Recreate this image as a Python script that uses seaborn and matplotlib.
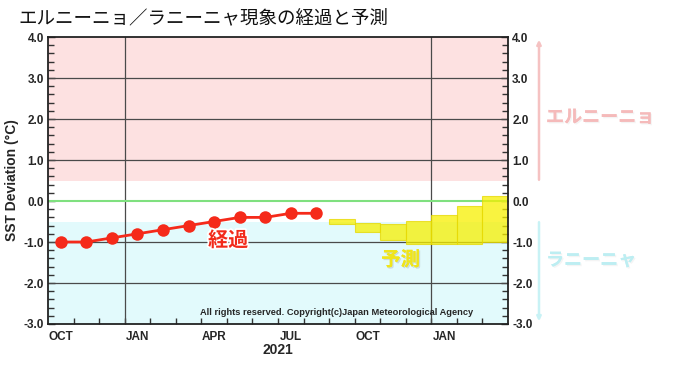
import numpy as np
import pandas as pd
import matplotlib
matplotlib.use("Agg")
import matplotlib.pyplot as plt
import matplotlib.patheffects as pe
import seaborn as sns

# ---- data ----
month_labels = ["OCT", "NOV", "DEC", "JAN", "FEB", "MAR", "APR", "MAY", "JUN",
                "JUL", "AUG", "SEP", "OCT", "NOV", "DEC", "JAN", "FEB", "MAR"]
obs_values = [-1.0, -1.0, -0.9, -0.8, -0.7, -0.6, -0.5, -0.4, -0.4, -0.3, -0.3]
fc_low = [-0.55, -0.76, -0.94, -1.04, -1.04, -1.04, -1.0]
fc_high = [-0.45, -0.54, -0.55, -0.49, -0.33, -0.11, 0.12]
tick_label_idx = [0, 3, 6, 9, 12, 15]
year_label = "2021"

sns.set_theme(style="white")
plt.rcParams['font.family'] = ['Liberation Sans', 'Noto Sans CJK JP', 'DejaVu Sans']

fig = plt.figure(figsize=(6.8, 3.65), dpi=100)
ax = fig.add_axes([48/680, 1-324/365, 460/680, 287/365])

n = len(month_labels)
ax.set_xlim(-0.5, n - 0.5)
ax.set_ylim(-3.0, 4.0)

# background bands
ax.axhspan(0.5, 4.0, color="#fde1e1", zorder=0, lw=0)
ax.axhspan(-3.0, -0.5, color="#e2fafc", zorder=0, lw=0)

# grid
for yv in [3, 2, 1, -1, -2]:
    ax.axhline(yv, color="#4a4a4a", lw=0.9, zorder=1)
ax.axvline(2.5, color="#4a4a4a", lw=0.9, zorder=1)
ax.axvline(14.5, color="#4a4a4a", lw=0.9, zorder=1)
ax.axhline(0, color="#7fe07f", lw=1.5, zorder=1)

# forecast bars
fc_x = np.arange(len(obs_values), len(obs_values) + len(fc_low))
ax.bar(fc_x, np.array(fc_high) - np.array(fc_low), bottom=fc_low, width=1.0,
       color="#f7f000", alpha=0.75, edgecolor="#e6d800", lw=0.8, zorder=2)

# observations
df = pd.DataFrame({"m": np.arange(len(obs_values)), "v": obs_values})
sns.lineplot(data=df, x="m", y="v", ax=ax, color="#f52a1a", lw=2,
             marker="o", markersize=9, markeredgewidth=0, zorder=4)
ax.set_xlabel("")
ax.set_ylabel("SST Deviation (°C)", fontsize=10, fontweight="bold", labelpad=3)

# ticks
ax.set_yticks(np.arange(-3, 4.01, 1.0))
ax.set_yticklabels([f"{v:.1f}" for v in np.arange(-3, 4.01, 1.0)], fontsize=8.5,
                   fontweight="bold")
ax.set_yticks(np.arange(-3, 4.01, 0.2), minor=True)
ax.tick_params(axis="y", which="both", direction="in", left=True, right=True,
               labelleft=True, labelright=True, length=5, width=1, color="#333333", pad=3)
ax.tick_params(axis="y", which="minor", length=4)
ax.set_xticks(np.arange(-0.5, n - 0.5, 1.0)[1:], minor=True)
ax.set_xticks(tick_label_idx)
ax.set_xticklabels([month_labels[i] for i in tick_label_idx], fontsize=8.5,
                   fontweight="bold")
ax.tick_params(axis="x", which="major", length=0, pad=5)
ax.tick_params(axis="x", which="minor", direction="in", bottom=True, length=4,
               width=1, color="#333333")
for s in ax.spines.values():
    s.set_color("#222222")
    s.set_linewidth(1.3)

ax.text(8.5, -3.64, year_label, ha="center", va="center", fontsize=10,
        fontweight="bold")

# labels inside
ax.text(6.55, -0.95, "経過", ha="center", va="center", fontsize=14.5,
        fontweight="bold", color="#f22a1a", family=["Noto Sans CJK JP"],
        path_effects=[pe.withStroke(linewidth=2.5, foreground="white")], zorder=5)
ax.text(13.3, -1.44, "予測", ha="center", va="center", fontsize=14,
        fontweight="bold", color="#f0e51a", family=["Noto Sans CJK JP"],
        path_effects=[pe.withSimplePatchShadow(offset=(1, -1), shadow_rgbFace="#999999"),
                      pe.Normal()], zorder=5)
ax.text(10.78, -2.73, "All rights reserved. Copyright(c)Japan Meteorological Agency",
        ha="center", va="center", fontsize=6.7, fontweight="bold", zorder=5)

# right-side arrows and labels
ax.annotate("", xy=(539/680, 4.0), xytext=(539/680, 0.45),
            xycoords=("figure fraction", "data"), textcoords=("figure fraction", "data"),
            arrowprops=dict(arrowstyle="-|>", color="#f5c2c2", lw=1.8,
                            mutation_scale=6), annotation_clip=False)
ax.annotate("", xy=(539/680, -3.0), xytext=(539/680, -0.45),
            xycoords=("figure fraction", "data"), textcoords=("figure fraction", "data"),
            arrowprops=dict(arrowstyle="-|>", color="#c8f2f5", lw=1.8,
                            mutation_scale=6), annotation_clip=False)
fig.text(546/680, 1-117/365, "エルニーニョ", ha="left", va="center", fontsize=13,
         fontweight="bold", color="#f5baba", family=["Noto Sans CJK JP"],
         path_effects=[pe.withSimplePatchShadow(offset=(1, -1), shadow_rgbFace="#dddddd"),
                       pe.Normal()])
fig.text(546/680, 1-260/365, "ラニーニャ", ha="left", va="center", fontsize=13,
         fontweight="bold", color="#bdeef2", family=["Noto Sans CJK JP"],
         path_effects=[pe.withSimplePatchShadow(offset=(1, -1), shadow_rgbFace="#dddddd"),
                       pe.Normal()])

fig.text(18/680, 1-18/365, "エルニーニョ／ラニーニャ現象の経過と予測", ha="left",
         va="center", fontsize=13.3, color="#111111", family=["Noto Sans CJK JP"])

fig.savefig("out.png", dpi=100)
